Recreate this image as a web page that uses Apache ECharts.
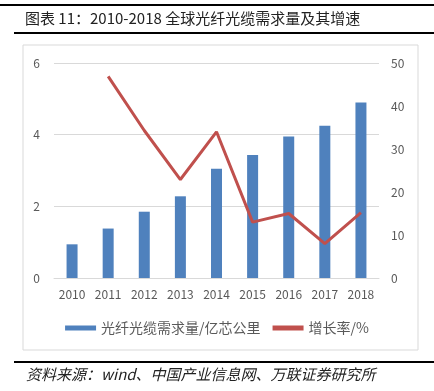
<!DOCTYPE html>
<html>
<head>
<meta charset="utf-8">
<script src="https://cdn.jsdelivr.net/npm/echarts@6/dist/echarts.min.js"></script>
<style>
  html, body { margin: 0; padding: 0; background: #fff; }
  #chart { width: 434px; height: 391px; }
</style>
</head>
<body>
<div id="chart"></div>
<script>
var years = ['2010', '2011', '2012', '2013', '2014', '2015', '2016', '2017', '2018'];
var demand = [0.94, 1.38, 1.85, 2.28, 3.05, 3.43, 3.95, 4.25, 4.90];
var growth = [null, 46.9, 34.3, 22.9, 34.0, 13.0, 15.0, 8.0, 15.2];

var chart = echarts.init(document.getElementById('chart'), null, { renderer: 'canvas' });
var blue = '#4f81bd', red = '#c0504d', muted = '#595959', rule = '#d9d9d9';
var cjk = '"Noto Sans CJK SC", sans-serif';

chart.setOption({
  animation: false,
  textStyle: { fontFamily: cjk },
  graphic: [
    { type: 'rect', shape: { x: 0, y: 4, width: 434, height: 2 }, style: { fill: '#000' } },
    { type: 'rect', shape: { x: 14, y: 32, width: 420, height: 2 }, style: { fill: '#000' } },
    { type: 'text', left: 25, top: 11, style: { text: '图表 11：2010-2018 全球光纤光缆需求量及其增速', fill: '#222', font: '15px ' + cjk } },
    { type: 'rect', shape: { x: 23, y: 45, width: 395, height: 305 }, style: { fill: 'none', stroke: '#d9d9d9', lineWidth: 1 } },
    { type: 'rect', shape: { x: 14, y: 361, width: 420, height: 2 }, style: { fill: '#000' } },
    { type: 'text', left: 26, top: 367, style: { text: '资料来源：wind、中国产业信息网、万联证券研究所', fill: '#222', font: 'italic 15px ' + cjk } }
  ],
  grid: { left: 54, right: 55, top: 63, bottom: 113 },
  legend: {
    bottom: 51, left: 'center', itemGap: 12, itemWidth: 31, itemHeight: 5,
    textStyle: { color: muted, fontSize: 14, fontFamily: cjk },
    data: [
      { name: '光纤光缆需求量/亿芯公里', icon: 'rect' },
      { name: '增长率/%', icon: 'rect', itemStyle: { color: red } }
    ]
  },
  xAxis: {
    type: 'category', data: years,
    axisLine: { lineStyle: { color: rule } },
    axisTick: { show: false },
    axisLabel: { color: muted, fontSize: 12, margin: 10, interval: 0 }
  },
  yAxis: [
    {
      type: 'value', min: 0, max: 6, interval: 2,
      axisLine: { show: false }, axisTick: { show: false },
      axisLabel: { color: muted, fontSize: 12, margin: 14 },
      splitLine: { lineStyle: { color: rule } }
    },
    {
      type: 'value', min: 0, max: 50, interval: 10,
      axisLine: { show: false }, axisTick: { show: false },
      axisLabel: { color: muted, fontSize: 12, margin: 12 },
      splitLine: { show: false }
    }
  ],
  series: [
    {
      name: '光纤光缆需求量/亿芯公里', type: 'bar', data: demand,
      barWidth: 11, itemStyle: { color: blue }
    },
    {
      name: '增长率/%', type: 'line', yAxisIndex: 1, data: growth,
      symbol: 'none', lineStyle: { color: red, width: 3 }, itemStyle: { color: red }
    }
  ]
});
</script>
</body>
</html>
